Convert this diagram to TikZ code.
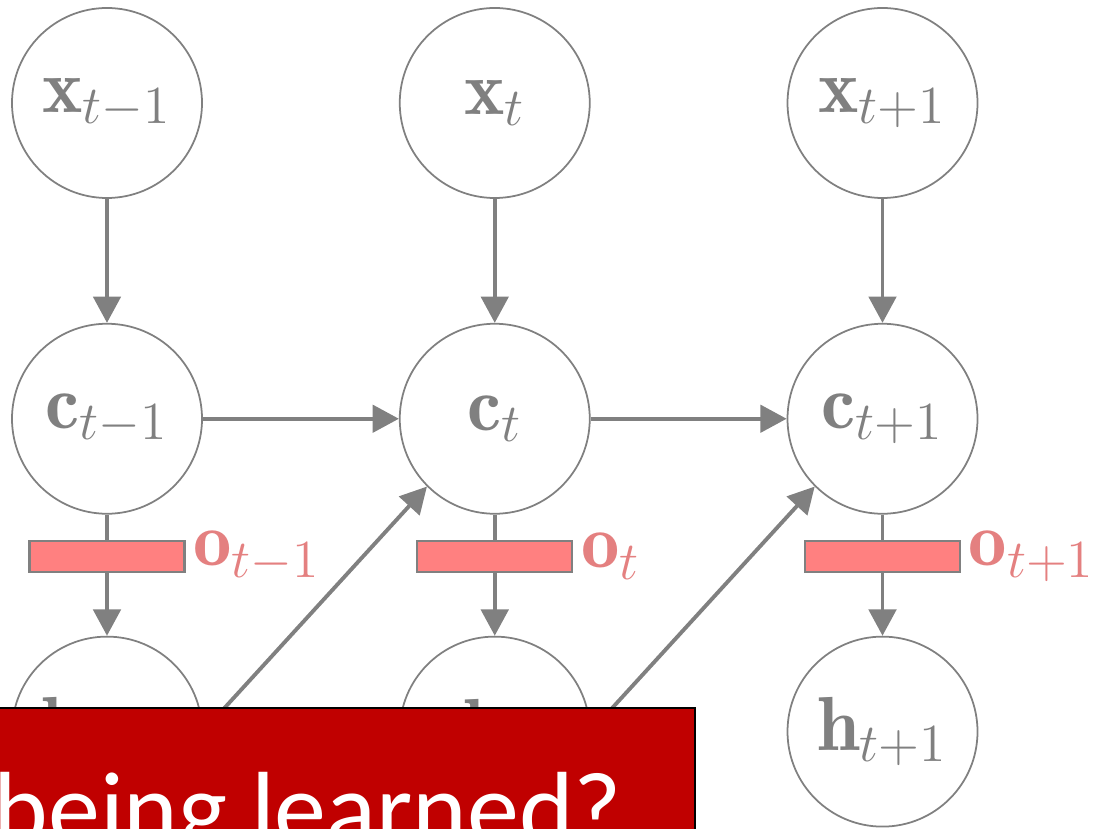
\documentclass[tikz,border=0pt]{standalone}
\usepackage{fix-cm}
\usepackage{amsmath}
\usepackage{fontspec}
\newfontfamily\calibri{Carlito}
\usetikzlibrary{positioning,arrows.meta}

\definecolor{edgegray}{RGB}{128,128,128}
\definecolor{gatefill}{RGB}{255,128,128}
\definecolor{gatetext}{RGB}{228,128,128}
\definecolor{boxred}{RGB}{192,0,0}

\begin{document}
\begin{tikzpicture}[
    node distance=1.96cm,
    unit/.style={circle, draw=edgegray, line width=0.5pt, minimum size=1.9cm, inner sep=0pt, text=edgegray, font=\fontsize{21.8}{26}\selectfont},
    gate/.style={rectangle, draw=edgegray, line width=0.6pt, fill=gatefill, minimum width=1.55cm, minimum height=0.31cm, inner sep=0pt},
    gatelabel/.style={text=gatetext, font=\fontsize{21.8}{26}\selectfont, inner sep=2pt},
    arrow/.style={-{Triangle[length=7.5pt,width=7.8pt]}, draw=edgegray, line width=1.1pt},
    link/.style={draw=edgegray, line width=1.1pt}
]
\clip (0,0) rectangle (10.96,-8.29);

% inputs
\node[unit] (x1) at (1.07,-1.03) {$\mathbf{x}_{t-1}$};
\node[unit, right=of x1] (x2) {$\mathbf{x}_{t}$};
\node[unit, right=of x2] (x3) {$\mathbf{x}_{t+1}$};

% cells
\node[unit, below=1.24cm of x1] (c1) {$\mathbf{c}_{t-1}$};
\node[unit, below=1.24cm of x2] (c2) {$\mathbf{c}_{t}$};
\node[unit, below=1.24cm of x3] (c3) {$\mathbf{c}_{t+1}$};

% output gates
\node[gate, below=0.25cm of c1] (g1) {};
\node[gate, below=0.25cm of c2] (g2) {};
\node[gate, below=0.25cm of c3] (g3) {};
\node[gatelabel, right=0pt of g1] (o1) {$\mathbf{o}_{t-1}$};
\node[gatelabel, right=0pt of g2] (o2) {$\mathbf{o}_{t}$};
\node[gatelabel, right=0pt of g3] (o3) {$\mathbf{o}_{t+1}$};

% hidden states
\node[unit, below=0.63cm of g1] (h1) {$\mathbf{h}_{t-1}$};
\node[unit, below=0.63cm of g2] (h2) {$\mathbf{h}_{t}$};
\node[unit, below=0.63cm of g3] (h3) {$\mathbf{h}_{t+1}$};

\draw[arrow] (x1) -- (c1);
\draw[arrow] (x2) -- (c2);
\draw[arrow] (x3) -- (c3);
\draw[arrow] (c1) -- (c2);
\draw[arrow] (c2) -- (c3);
\draw[link] (c1) -- (g1);
\draw[link] (c2) -- (g2);
\draw[link] (c3) -- (g3);
\draw[arrow] (g1) -- (h1);
\draw[arrow] (g2) -- (h2);
\draw[arrow] (g3) -- (h3);
\draw[arrow] (h1.east) -- (c2.south west);
\draw[arrow] (h2.east) -- (c3.south west);

% question box
\fill[boxred, draw=black, line width=0.5pt] (-0.5,-7.08) rectangle (6.95,-9);
\node[anchor=base west, text=white, font=\calibri\fontsize{29.6}{35}\selectfont, inner sep=0pt] (question) at (-0.07,-8.45) {being learned?};
\end{tikzpicture}
\end{document}
